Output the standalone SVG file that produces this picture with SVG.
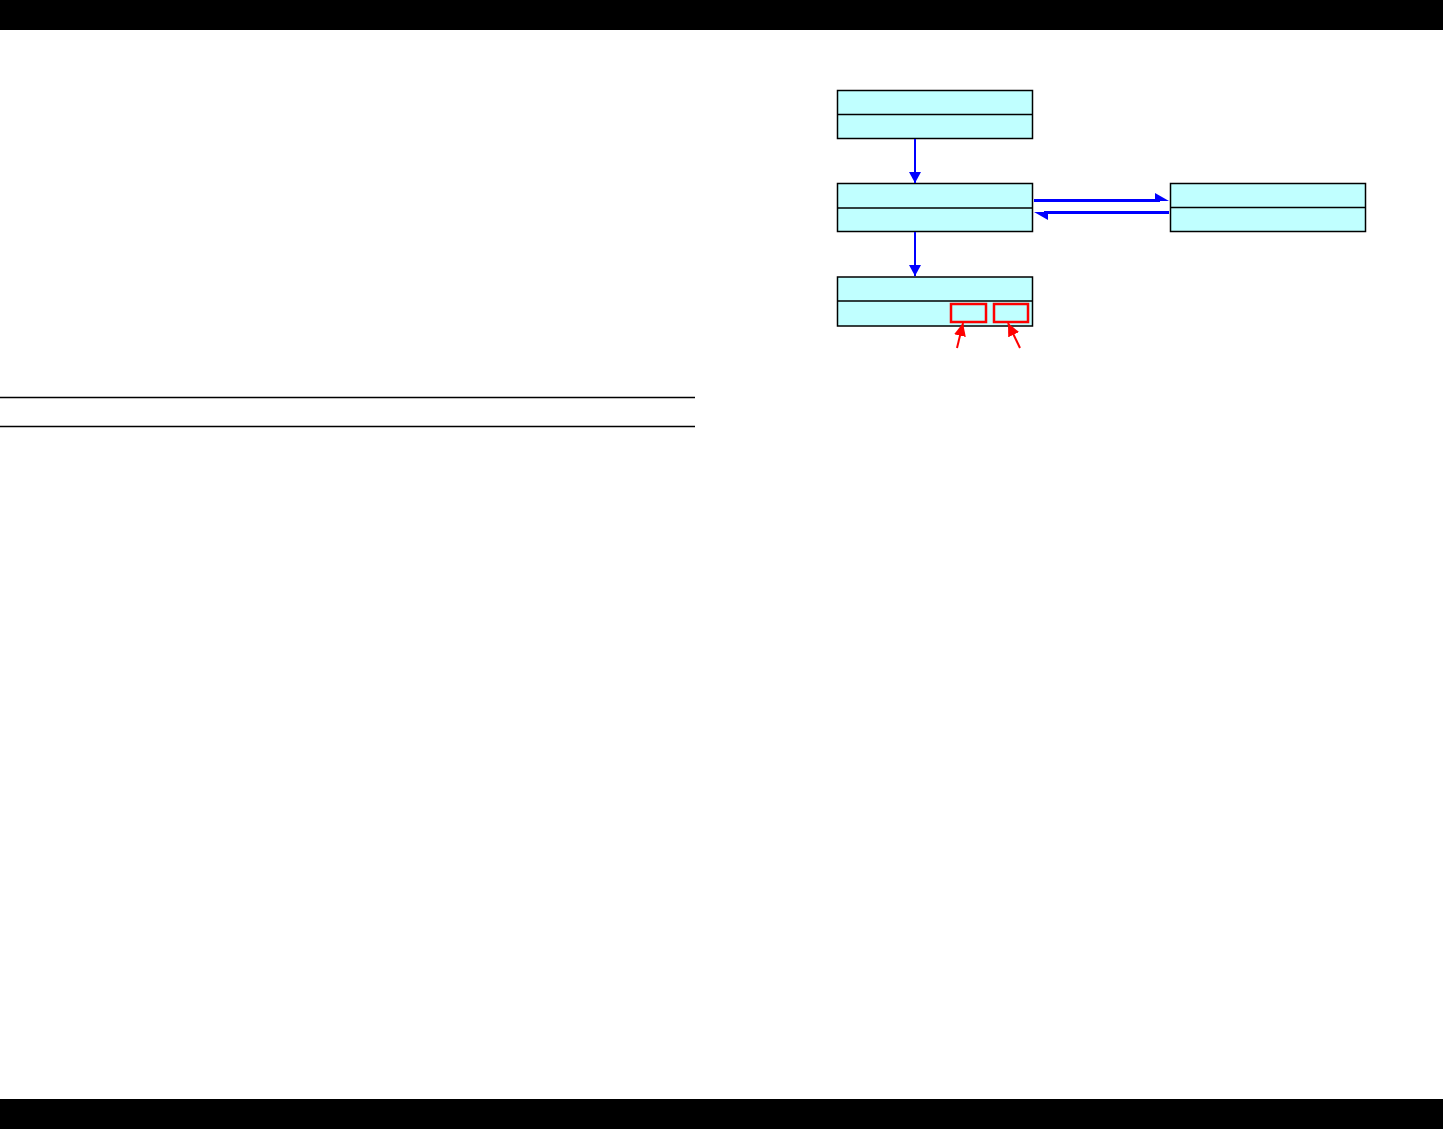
<svg xmlns="http://www.w3.org/2000/svg" width="1443" height="1129" viewBox="0 0 1443 1129">
<style>
.box{fill:#c0ffff;stroke:#000;stroke-width:1.5}
.div{stroke:#000;stroke-width:1.5}
.blue{stroke:#0000ff;stroke-width:2;fill:none}
.bluet{stroke:#0000ff;stroke-width:3;fill:none}
.red{stroke:#ff0000;stroke-width:2;fill:none}
.rule{stroke:#000;stroke-width:1.3}
</style>
<defs>
<marker id="ab" markerWidth="11" markerHeight="12" refX="11" refY="6" orient="auto" markerUnits="userSpaceOnUse"><path d="M0,0 L11,6 L0,12 Z" fill="#0000ff"/></marker>
<marker id="ar" markerWidth="13" markerHeight="12" refX="13" refY="6" orient="auto" markerUnits="userSpaceOnUse"><path d="M0,0 L13,6 L0,12 Z" fill="#ff0000"/></marker>
</defs>
<rect x="0" y="0" width="1443" height="30" fill="#000"/>
<rect x="0" y="1099" width="1443" height="30" fill="#000"/>
<line class="rule" x1="0" y1="397.5" x2="695" y2="397.5"/>
<line class="rule" x1="0" y1="426.5" x2="695" y2="426.5"/>
<g id="node1">
<rect class="box" x="837.5" y="90.5" width="195" height="48"/>
<line class="div" x1="837.5" y1="114.5" x2="1032.5" y2="114.5"/>
</g>
<g id="node2">
<rect class="box" x="837.5" y="183.5" width="195" height="48"/>
<line class="div" x1="837.5" y1="208" x2="1032.5" y2="208"/>
</g>
<g id="node3">
<rect class="box" x="837.5" y="277" width="195" height="49"/>
<line class="div" x1="837.5" y1="301" x2="1032.5" y2="301"/>
<rect x="951" y="304" width="35" height="18" fill="none" stroke="#ff0000" stroke-width="2.5"/>
<rect x="994" y="304" width="34" height="18" fill="none" stroke="#ff0000" stroke-width="2.5"/>
</g>
<g id="node4">
<rect class="box" x="1170.5" y="183.5" width="195" height="48"/>
<line class="div" x1="1170.5" y1="207.5" x2="1365.5" y2="207.5"/>
</g>
<g id="connectors">
<line class="blue" x1="915" y1="139" x2="915" y2="183" marker-end="url(#ab)"/>
<line class="blue" x1="915" y1="232" x2="915" y2="276" marker-end="url(#ab)"/>
<line class="bluet" x1="1034" y1="200.5" x2="1160" y2="200.5"/>
<path d="M1155,193 L1169,201 L1155,201 Z" fill="#0000ff"/>
<line class="bluet" x1="1044" y1="212.5" x2="1169" y2="212.5"/>
<path d="M1048,220 L1034,212 L1048,212 Z" fill="#0000ff"/>
<line class="red" x1="957" y1="348" x2="963" y2="323" marker-end="url(#ar)"/>
<line class="red" x1="1020" y1="348" x2="1008" y2="323" marker-end="url(#ar)"/>
</g>
</svg>
